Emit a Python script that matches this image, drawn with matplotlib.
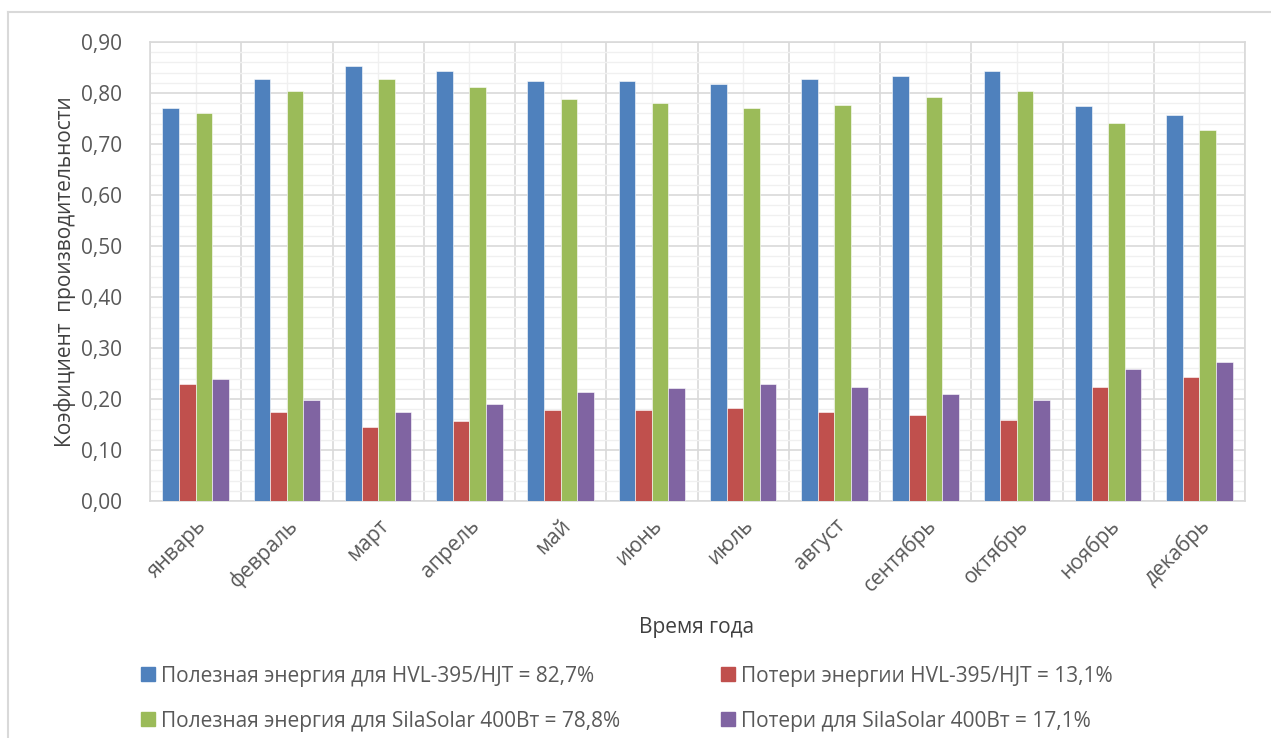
import matplotlib
matplotlib.use("Agg")
import matplotlib.pyplot as plt
import numpy as np
from matplotlib.ticker import MultipleLocator, FuncFormatter
from matplotlib.lines import Line2D

months = ["январь", "февраль", "март", "апрель", "май", "июнь",
          "июль", "август", "сентябрь", "октябрь", "ноябрь", "декабрь"]

useful_hvl = [0.770, 0.827, 0.853, 0.843, 0.823, 0.823,
              0.818, 0.827, 0.833, 0.843, 0.775, 0.757]
loss_hvl = [0.229, 0.174, 0.146, 0.157, 0.179, 0.179,
            0.182, 0.174, 0.169, 0.159, 0.224, 0.244]
useful_sila = [0.760, 0.803, 0.827, 0.812, 0.788, 0.780,
               0.770, 0.777, 0.792, 0.803, 0.742, 0.727]
loss_sila = [0.239, 0.199, 0.174, 0.190, 0.214, 0.222,
             0.229, 0.224, 0.209, 0.199, 0.259, 0.272]

series_labels = [
    "Полезная энергия для HVL-395/HJT = 82,7%",
    "Потери энергии HVL-395/HJT = 13,1%",
    "Полезная энергия для SilaSolar 400Вт = 78,8%",
    "Потери для SilaSolar 400Вт = 17,1%",
]
series_colors = ["#4F81BD", "#C0504D", "#9BBB59", "#8064A2"]
series_values = [useful_hvl, loss_hvl, useful_sila, loss_sila]

plt.rcParams["font.family"] = ["Open Sans", "DejaVu Sans"]
text_color = "#595959"

fig = plt.figure(figsize=(12.71, 7.38), dpi=100)
ax = fig.add_axes([150 / 1271, 1 - 501 / 738, 1095 / 1271, 459 / 738])

x = np.arange(len(months))
bar_w = 1 / 5.5
for i, (vals, col, lab) in enumerate(zip(series_values, series_colors, series_labels)):
    ax.bar(x + (i - 1.5) * bar_w, vals, width=bar_w, color=col, label=lab,
           edgecolor="white", linewidth=0.4, zorder=3)

ax.set_xlim(-0.5, len(months) - 0.5)
ax.set_ylim(0, 0.9)
ax.yaxis.set_major_locator(MultipleLocator(0.1))
ax.yaxis.set_minor_locator(MultipleLocator(0.02))
ax.yaxis.set_major_formatter(FuncFormatter(lambda v, p: f"{v:.2f}".replace(".", ",")))

# grid: major/minor horizontal, vertical at category borders and centres
ax.grid(axis="y", which="major", color="#D9D9D9", linewidth=1.2, zorder=0)
ax.grid(axis="y", which="minor", color="#F0F0F0", linewidth=1.0, zorder=0)
for b in np.arange(-0.5, len(months), 1.0):
    ax.axvline(b, color="#D9D9D9", linewidth=1.2, zorder=0)
for c in x:
    ax.axvline(c, color="#F0F0F0", linewidth=1.0, zorder=0)

for s in ax.spines.values():
    s.set_color("#D9D9D9")
    s.set_linewidth(1.2)

ax.set_xticks(x)
ax.set_xticklabels(months, rotation=45, ha="right", rotation_mode="anchor",
                   fontsize=15, color=text_color)
ax.tick_params(axis="x", length=0, pad=10)
ax.tick_params(axis="y", which="both", length=0, pad=20, labelsize=15, labelcolor=text_color)

ax.set_ylabel("Коэфициент  производительности", fontsize=15, color="#404040", labelpad=4)
fig.text(697 / 1271, 1 - 628 / 738, "Время года", fontsize=15, color="#404040",
         ha="center", va="center")

# legend filled row by row: two columns
handles = [Line2D([0], [0], marker="s", linestyle="none", markersize=10,
                  markerfacecolor=c, markeredgecolor=c) for c in series_colors]
order = [0, 2, 1, 3]
fig.legend([handles[i] for i in order], [series_labels[i] for i in order],
           ncol=2, loc="upper left",
           bbox_to_anchor=(117 / 1271, 1 - 647 / 738), frameon=False,
           fontsize=15, labelcolor=text_color, handletextpad=0.0,
           columnspacing=4.6, labelspacing=1.15, handlelength=1.2)

# outer chart border (top and left edges)
fig.add_artist(Line2D([8 / 1271, 1.0], [1 - 12 / 738, 1 - 12 / 738],
                      transform=fig.transFigure, color="#D9D9D9", linewidth=1.5))
fig.add_artist(Line2D([8 / 1271, 8 / 1271], [0, 1 - 12 / 738],
                      transform=fig.transFigure, color="#D9D9D9", linewidth=1.5))

fig.savefig("out.png", dpi=100, facecolor="white")
